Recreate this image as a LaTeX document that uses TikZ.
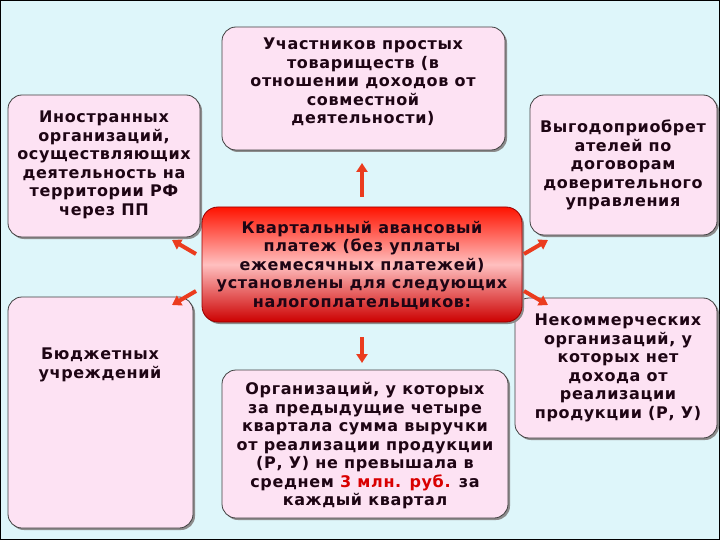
\documentclass[tikz,border=0pt]{standalone}
\usepackage{fontspec}
\setmainfont{DejaVu Sans}[BoldFont={DejaVu Sans Bold},BoldFeatures={LetterSpace=4}]
\usetikzlibrary{shadows,arrows.meta}
\definecolor{bg}{RGB}{222,246,250}
\definecolor{pinkb}{RGB}{253,226,243}
\definecolor{redc}{RGB}{235,60,30}
\definecolor{tx}{RGB}{30,5,20}
\tikzset{
 box/.style={draw=black!75, line width=0.8pt, fill=pinkb, rounded corners=14pt, drop shadow={shadow xshift=2pt,shadow yshift=-2pt,fill=black!45,opacity=1}},
 lbl/.style={align=center, text=tx, font=\fontsize{16}{18.5}\selectfont\bfseries},
 arr/.style={-{Triangle[width=11pt,length=9pt]}, line width=4pt, draw=redc},
}
\begin{document}
\begin{tikzpicture}[x=1pt,y=-1pt]
\draw[fill=bg, draw=black, line width=1pt] (0.5,0.5) rectangle (719.5,539.5);
\useasboundingbox (0,0) rectangle (720,540);
\draw[box] (8,95) rectangle (200,237); \node[lbl] (lt) at (104,165) {Иностранных\\организаций,\\осуществляющих\\деятельность на\\территории РФ\\через ПП};
\draw[box] (222,27) rectangle (505,150); \node[lbl] (tc) at (363,82) {Участников простых\\товариществ (в\\отношении доходов от\\совместной\\деятельности)};
\draw[box] (530,95) rectangle (717,235); \node[lbl] (rt) at (623,165) {Выгодоприобрет\\ателей по\\договорам\\доверительного\\управления};
\draw[box] (8,297) rectangle (193,528); \node[lbl] (lb) at (100,365) {Бюджетных\\учреждений};
\draw[box] (222,370) rectangle (508,518); \node[lbl] (bc) at (365,446) {Организаций, у которых\\за предыдущие четыре\\квартала сумма выручки\\от реализации продукции\\(Р, У) не превышала в\\среднем \textcolor{red!85!black}{3 млн. руб.} за\\каждый квартал};
\draw[box] (515,298) rectangle (717,438); \node[lbl] (rb) at (618,368) {Некоммерческих\\организаций, у\\которых нет\\дохода от\\реализации\\продукции (Р, У)};
\draw[draw=red!60!black, line width=0.8pt, rounded corners=16pt, top color=red!85!orange, bottom color=red!80!black, middle color=red!25!white, drop shadow={shadow xshift=2pt,shadow yshift=-2pt,fill=black!45,opacity=1}] (202,207) rectangle (522,322);
\node[lbl] (c) at (362,265) {Квартальный авансовый\\платеж (без уплаты\\ежемесячных платежей)\\установлены для следующих\\налогоплательщиков:};
\coordinate (u0) at (362,197); \coordinate (u1) at (362,163);
\coordinate (d0) at (362,337); \coordinate (d1) at (362,363);
\coordinate (a0) at (196,254); \coordinate (a1) at (172,240);
\coordinate (b0) at (196,291); \coordinate (b1) at (172,305);
\coordinate (e0) at (524,254); \coordinate (e1) at (548,240);
\coordinate (f0) at (524,291); \coordinate (f1) at (548,305);
\foreach \p in {u,d,a,b,e,f} \draw[arr] (\p0) -- (\p1);
\end{tikzpicture}
\end{document}
